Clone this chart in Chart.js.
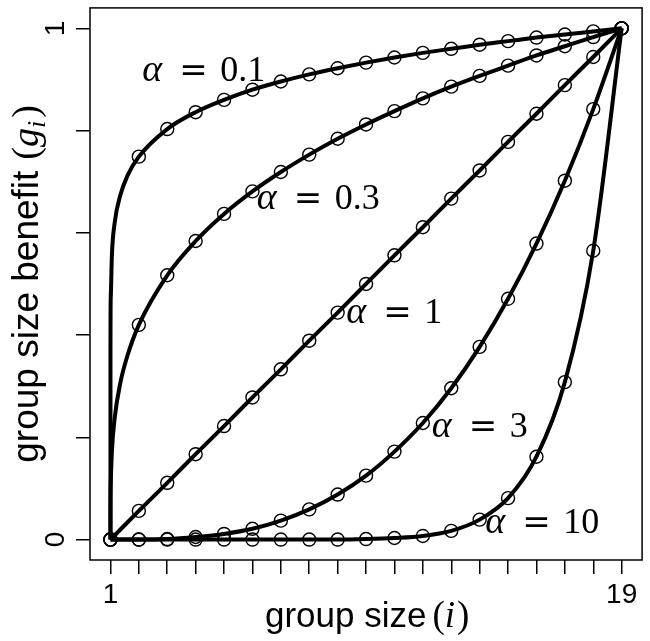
<!DOCTYPE html>
<html>

<head>
    <title>Group size benefit</title>
    <style>
        body {
            margin: 0;
            background-color: #ffffff;
        }
    </style>
    <script src="https://cdn.jsdelivr.net/npm/chart.js"></script>
</head>

<body>
    <canvas id="benefitChart" width="650" height="641"></canvas>

    <script>
        // group sizes i = 1..19
        const sizes = [1, 2, 3, 4, 5, 6, 7, 8, 9, 10, 11, 12, 13, 14, 15, 16, 17, 18, 19];
        const yTickValues = [0, 0.2, 0.4, 0.6, 0.8, 1];

        // benefit g_i at each group size, one array per alpha
        const g01 = [0, 0.749, 0.803, 0.836, 0.860, 0.880, 0.896, 0.910, 0.922, 0.933, 0.943, 0.952, 0.960, 0.968, 0.975, 0.982, 0.988, 0.994, 1];
        const g03 = [0, 0.420, 0.517, 0.584, 0.637, 0.681, 0.719, 0.753, 0.784, 0.812, 0.838, 0.863, 0.886, 0.907, 0.927, 0.947, 0.965, 0.983, 1];
        const g1 = [0, 0.056, 0.111, 0.167, 0.222, 0.278, 0.333, 0.389, 0.444, 0.5, 0.556, 0.611, 0.667, 0.722, 0.778, 0.833, 0.889, 0.944, 1];
        const g3 = [0, 0.000, 0.001, 0.005, 0.011, 0.021, 0.037, 0.059, 0.088, 0.125, 0.172, 0.228, 0.296, 0.377, 0.471, 0.579, 0.702, 0.842, 1];
        const g10 = [0, 0, 0, 0, 0, 0, 0, 0, 0, 0.001, 0.003, 0.007, 0.017, 0.039, 0.081, 0.162, 0.308, 0.565, 1];

        // the steep start of the two concave curves, just right of i = 1
        const nearX = [1.001, 1.01, 1.05, 1.15, 1.35, 1.6];
        const near01 = [0.375, 0.473, 0.555, 0.620, 0.674, 0.712];
        const near03 = [0.053, 0.106, 0.171, 0.238, 0.307, 0.360];

        // curve labels, anchored in data units
        const alphaLabels = ['0.1', '0.3', '1', '3', '10'];
        const labelX = [2.12, 6.15, 9.30, 12.31, 14.20];
        const labelY = [0.897, 0.647, 0.423, 0.200, 0.0136];

        const circles = [g01, g03, g1, g3, g10];

        function points(xs, ys) {
            return xs.map((x, k) => ({ x: x, y: ys[k] }));
        }

        function curve(values, nx, ny) {
            let pts = [{ x: sizes[0], y: values[0] }];
            if (nx) pts = pts.concat(points(nx, ny));
            return pts.concat(points(sizes.slice(1), values.slice(1)));
        }

        const curves = [
            curve(g01, nearX, near01),
            curve(g03, nearX, near03),
            curve(g1),
            curve(g3),
            curve(g10)
        ];

        const datasets = [];
        curves.forEach(c => datasets.push({
            type: 'line',
            order: 1,
            data: c,
            borderColor: '#000',
            borderWidth: 4,
            pointRadius: 0,
            cubicInterpolationMode: 'monotone',
            fill: false
        }));
        // open circles sit on top of the lines
        circles.forEach(v => datasets.push({
            type: 'scatter',
            order: 0,
            data: points(sizes, v),
            showLine: false,
            pointStyle: 'circle',
            pointRadius: 6.5,
            pointBorderWidth: 1.4,
            pointBorderColor: '#000',
            pointBackgroundColor: 'rgba(0,0,0,0)'
        }));

        const SANS = '"Liberation Sans", Arial, sans-serif';
        const SERIF = '"Liberation Serif", "Times New Roman", serif';

        // draws pieces of text one after another along the baseline
        function drawRun(ctx, x, y, parts) {
            let cx = x;
            parts.forEach(p => {
                ctx.font = p.font;
                if (p.at !== undefined) cx = x + p.at;
                ctx.fillText(p.text, cx, y + (p.dy || 0));
                cx += ctx.measureText(p.text).width + (p.gap || 0);
            });
            return cx - x;
        }

        function runWidth(ctx, parts) {
            let w = 0;
            parts.forEach(p => {
                ctx.font = p.font;
                w += ctx.measureText(p.text).width + (p.gap || 0);
            });
            return w;
        }

        const yTitle = [
            { text: 'group size benefit', font: '37px ' + SANS, gap: 11 },
            { text: '(', font: '38px ' + SERIF },
            { text: 'g', font: 'italic 38px ' + SERIF },
            { text: 'i', font: 'italic 26px ' + SERIF, dy: 7, gap: 3 },
            { text: ')', font: '38px ' + SERIF }
        ];

        const plotDecor = {
            id: 'plotDecor',
            afterDatasetsDraw(chart) {
                const ctx = chart.ctx;
                const a = chart.chartArea;
                const xs = chart.scales.x;
                const ys = chart.scales.y;
                ctx.save();
                ctx.strokeStyle = '#000';
                ctx.lineWidth = 1.5;
                ctx.strokeRect(a.left, a.top, a.right - a.left, a.bottom - a.top);

                ctx.fillStyle = '#000';
                ctx.textBaseline = 'alphabetic';
                ctx.textAlign = 'left';
                alphaLabels.forEach((t, k) => {
                    const px = xs.getPixelForValue(labelX[k]);
                    const py = ys.getPixelForValue(labelY[k]);
                    drawRun(ctx, px, py, [
                        { text: '\u03b1', font: 'italic 38px ' + SERIF, at: 0 },
                        { text: '=', font: '34px "DejaVu Serif", serif', at: 37 },
                        { text: t, font: '36px ' + SERIF, at: 78 }
                    ]);
                });

                // x axis title
                drawRun(ctx, 265, 627, [
                    { text: 'group size', font: '35px ' + SANS, gap: 6 },
                    { text: '(', font: '37px ' + SERIF },
                    { text: 'i', font: 'italic 37px ' + SERIF, gap: 2 },
                    { text: ')', font: '37px ' + SERIF }
                ]);

                // y axis title, reading upwards, centred on the plot box
                const mid = (a.top + a.bottom) / 2;
                const w = runWidth(ctx, yTitle);
                ctx.translate(38, mid + w / 2);
                ctx.rotate(-Math.PI / 2);
                drawRun(ctx, 0, 0, yTitle);
                ctx.restore();
            }
        };

        new Chart(document.getElementById('benefitChart'), {
            data: { datasets: datasets },
            options: {
                responsive: false,
                animation: false,
                layout: { padding: { top: 4, right: 5, left: 0, bottom: 0 } },
                plugins: {
                    legend: { display: false },
                    tooltip: { enabled: false }
                },
                scales: {
                    x: {
                        type: 'linear',
                        min: 0.28,
                        max: 19.72,
                        afterBuildTicks: s => { s.ticks = sizes.map(v => ({ value: v })); },
                        afterFit: s => {
                            s.height = 81;
                            s.paddingLeft = 0;
                            s.paddingRight = 0;
                        },
                        border: { display: false },
                        grid: { drawOnChartArea: false, drawTicks: true, tickLength: 14, color: '#000', lineWidth: 1.5 },
                        ticks: {
                            autoSkip: false,
                            maxRotation: 0,
                            padding: 4,
                            color: '#000',
                            font: { family: SANS, size: 28 },
                            callback: v => (v === 1 || v === 19) ? String(v) : ''
                        }
                    },
                    y: {
                        type: 'linear',
                        min: -0.04,
                        max: 1.04,
                        afterBuildTicks: s => { s.ticks = yTickValues.map(v => ({ value: v })); },
                        afterFit: s => {
                            s.width = 90;
                            s.paddingTop = 0;
                            s.paddingBottom = 0;
                        },
                        border: { display: false },
                        grid: { drawOnChartArea: false, drawTicks: true, tickLength: 14, color: '#000', lineWidth: 1.5 },
                        ticks: {
                            minRotation: 90,
                            maxRotation: 90,
                            crossAlign: 'center',
                            padding: 12,
                            color: '#000',
                            font: { family: SANS, size: 28 },
                            callback: v => v === 0 ? '0' : (v === 1 ? '1' : '')
                        }
                    }
                }
            },
            plugins: [plotDecor]
        });
    </script>
</body>

</html>
